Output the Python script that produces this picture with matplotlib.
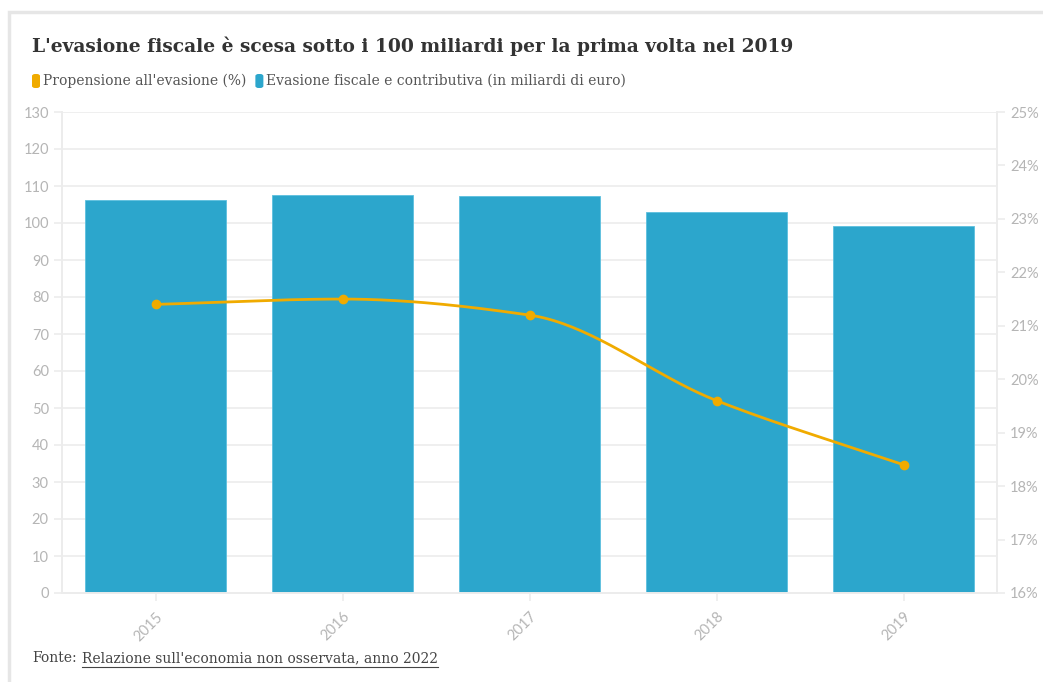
import matplotlib.pyplot as plt
import numpy as np
from matplotlib.patches import FancyBboxPatch, Rectangle

anni = ["2015", "2016", "2017", "2018", "2019"]
evasione_mld = [106.2, 107.6, 107.4, 103.0, 99.2]
propensione_pct = [21.4, 21.5, 21.2, 19.6, 18.4]

BLU = "#2ca6cc"
ARANCIO = "#f0ab00"
GRIGIO_TICK = "#b5b5b5"
GRIGIO_GRID = "#ececec"


def monotone_curve(x, y, n=40):
    # monotone cubic (Fritsch-Carlson), same shape as d3 curveMonotoneX
    x = np.asarray(x, float)
    y = np.asarray(y, float)
    h = np.diff(x)
    d = np.diff(y) / h
    m = np.zeros_like(y)
    m[0], m[-1] = d[0], d[-1]
    for i in range(1, len(y) - 1):
        if d[i - 1] * d[i] <= 0:
            m[i] = 0
        else:
            m[i] = 3 * (h[i - 1] + h[i]) / ((2 * h[i] + h[i - 1]) / d[i - 1] + (h[i] + 2 * h[i - 1]) / d[i])
    xs, ys = [], []
    for i in range(len(x) - 1):
        t = np.linspace(0, 1, n)
        h00 = 2 * t**3 - 3 * t**2 + 1
        h10 = t**3 - 2 * t**2 + t
        h01 = -2 * t**3 + 3 * t**2
        h11 = t**3 - t**2
        xs.append(x[i] + t * h[i])
        ys.append(h00 * y[i] + h10 * h[i] * m[i] + h01 * y[i + 1] + h11 * h[i] * m[i + 1])
    return np.concatenate(xs), np.concatenate(ys)


W, H = 1043, 682
fig = plt.figure(figsize=(W / 100, H / 100), dpi=100)
fig.patch.set_facecolor("white")
renderer = fig.canvas.get_renderer()


def text_px(px, py, s, **kw):
    # place text at pixel coords (from top-left), return right edge in px
    t = fig.text(px / W, 1 - py / H, s, va="center", **kw)
    bb = t.get_window_extent(renderer)
    return bb.x1


# card border
fig.patches.append(Rectangle((9 / W, -0.1), 1.2, 1 - 12 / H + 0.1, transform=fig.transFigure,
                             facecolor="none", edgecolor="#e6e6e6", linewidth=2.5))

ax = fig.add_axes([62 / W, 1 - 593 / H, (997 - 62) / W, (593 - 112) / H])
ax2 = ax.twinx()

x = np.arange(len(anni))
ax.bar(x, evasione_mld, width=0.75, color=BLU, edgecolor="#5cc0de", linewidth=0.6, zorder=2)
ax.set_xlim(-0.5, len(anni) - 0.5)
ax.set_ylim(0, 130)
ax.set_yticks(range(0, 131, 10))
ax.grid(axis="y", color=GRIGIO_GRID, linewidth=1.2, zorder=0)
ax.set_axisbelow(True)
ax.set_xticks(x)
ax.set_xticklabels(anni, rotation=45, ha="right", rotation_mode="anchor")

cx, cy = monotone_curve(x, propensione_pct)
ax2.plot(cx, cy, color=ARANCIO, linewidth=2, zorder=3)
ax2.plot(x, propensione_pct, "o", color=ARANCIO, markersize=6, zorder=4)
ax2.set_ylim(16, 25)
ax2.set_yticks(range(16, 26))
ax2.set_yticklabels([f"{v}%" for v in range(16, 26)])

for a in (ax, ax2):
    for s in a.spines.values():
        s.set_color(GRIGIO_GRID)
        s.set_linewidth(1.2)
    a.spines["top"].set_visible(False)
    a.tick_params(colors=GRIGIO_GRID, labelcolor=GRIGIO_TICK, length=6, width=1.2, labelsize=10.5)
    for lab in a.get_xticklabels() + a.get_yticklabels():
        lab.set_fontfamily("Lato")
ax.tick_params(axis="x", pad=6)

text_px(32, 46, "L'evasione fiscale è scesa sotto i 100 miliardi per la prima volta nel 2019",
        fontsize=13.4, fontweight="bold", family="DejaVu Serif", color="#333333")

# legend with rounded swatches
serif = dict(fontsize=10, family="DejaVu Serif")
px = 32
for col, txt in [(ARANCIO, "Propensione all'evasione (%)"), (BLU, "Evasione fiscale e contributiva (in miliardi di euro)")]:
    fig.patches.append(FancyBboxPatch((px / W, 1 - 88 / H), 8 / W, 14 / H, transform=fig.transFigure,
                                      boxstyle="round,pad=0,rounding_size=0.003", facecolor=col, edgecolor="none"))
    px = text_px(px + 11, 81, txt, color="#555555", **serif) + 9

# source line with underlined link text
x_end = text_px(32, 658, "Fonte:", color="#444444", **serif)
x0 = x_end + 5
x1 = text_px(x0, 658, "Relazione sull'economia non osservata, anno 2022", color="#444444", **serif)
fig.add_artist(plt.Line2D([x0 / W, x1 / W], [1 - 667 / H, 1 - 667 / H], transform=fig.transFigure,
                          color="#444444", linewidth=0.8))

fig.savefig("out.png", dpi=100)
